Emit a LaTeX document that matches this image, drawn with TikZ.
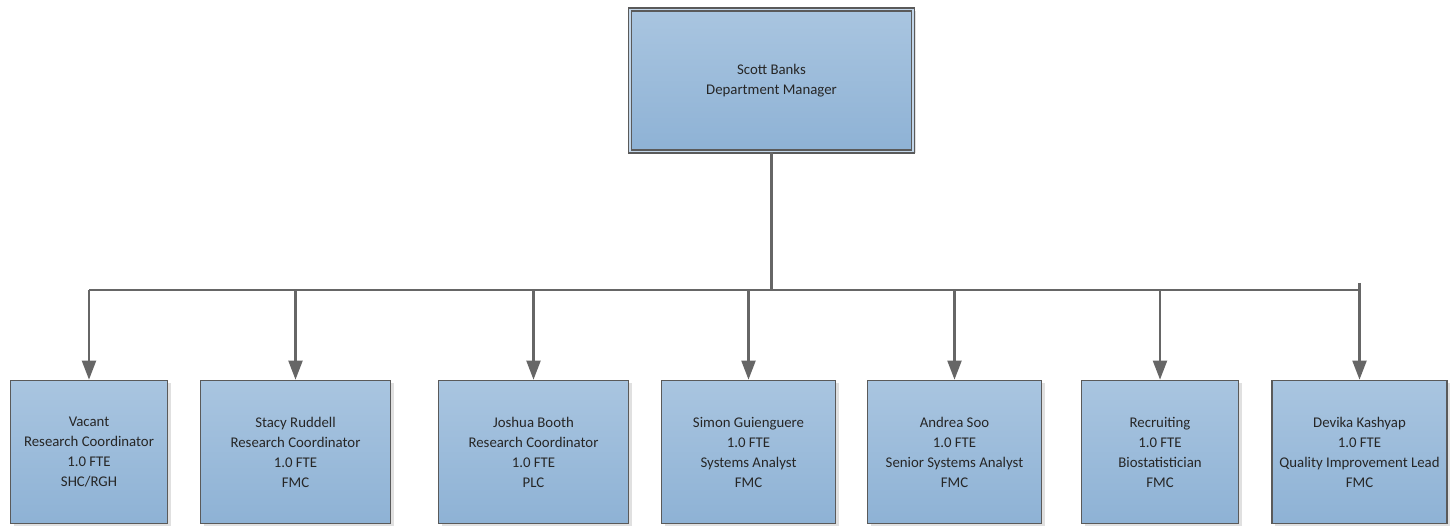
\documentclass[tikz,border=0pt]{standalone}
\usepackage{fontspec}
\setmainfont{Carlito}
\usetikzlibrary{arrows.meta,shadows}
\definecolor{boxtop}{HTML}{A9C5E0}
\definecolor{boxbottom}{HTML}{8EB2D5}
\definecolor{boxline}{HTML}{5A5A5A}
\definecolor{linegray}{HTML}{666666}
\definecolor{textgray}{HTML}{262626}

\begin{document}
\begin{tikzpicture}[
            x=1pt, y=-1pt,
            staffbox/.style={draw=boxline, line width=1.7pt, top color=boxtop, bottom color=boxbottom,
                inner sep=0pt, align=center, text=textgray, font=\fontsize{14.8}{20}\selectfont,
                minimum height=143pt,
                drop shadow={shadow xshift=3pt, shadow yshift=-2pt, fill=black!12, opacity=1}},
            headbox/.style={staffbox, line width=1.5pt, double=boxtop!70, double distance=1.4pt,
                minimum width=283pt, minimum height=142pt},
            link/.style={draw=linegray, line width=2.1pt},
            arrowlink/.style={link, -{Triangle[length=19pt, width=14pt]}},
        ]
            \useasboundingbox (0, 0) rectangle (1453, 526);
            \node[headbox] (manager) at (771.5, 80.5) {Scott Banks\\Department Manager};
            \node[staffbox, minimum width=157pt] (vacant) at (89, 452) {Vacant\\Research Coordinator\\1.0 FTE\\SHC/RGH};
            \node[staffbox, minimum width=190pt] (ruddell) at (295.5, 452) {Stacy Ruddell\\Research Coordinator\\1.0 FTE\\FMC};
            \node[staffbox, minimum width=190pt] (booth) at (533.5, 452) {Joshua Booth\\Research Coordinator\\1.0 FTE\\PLC};
            \node[staffbox, minimum width=174pt] (guienguere) at (748.5, 452) {Simon Guienguere\\1.0 FTE\\Systems Analyst\\FMC};
            \node[staffbox, minimum width=174pt] (soo) at (954.5, 452) {Andrea Soo\\1.0 FTE\\Senior Systems Analyst\\FMC};
            \node[staffbox, minimum width=157pt] (recruiting) at (1160, 452) {Recruiting\\1.0 FTE\\Biostatistician\\FMC};
            \node[staffbox, minimum width=175pt] (kashyap) at (1359.5, 452) {Devika Kashyap\\1.0 FTE\\Quality Improvement Lead\\FMC};
            % bus under the manager
            \coordinate (bus) at (772, 290);
            \draw[link] (manager.south) -- (manager.south |- bus);
            \draw[link] (vacant.north |- bus) -- (kashyap.north |- bus);
            \draw[arrowlink] (vacant.north |- bus) -- (vacant.north);
            \draw[arrowlink] (ruddell.north |- bus) -- (ruddell.north);
            \draw[arrowlink] (booth.north |- bus) -- (booth.north);
            \draw[arrowlink] (guienguere.north |- bus) -- (guienguere.north);
            \draw[arrowlink] (soo.north |- bus) -- (soo.north);
            \draw[arrowlink] (recruiting.north |- bus) -- (recruiting.north);
            \draw[arrowlink] ([yshift=7pt]kashyap.north |- bus) -- (kashyap.north);
        \end{tikzpicture}
\end{document}
